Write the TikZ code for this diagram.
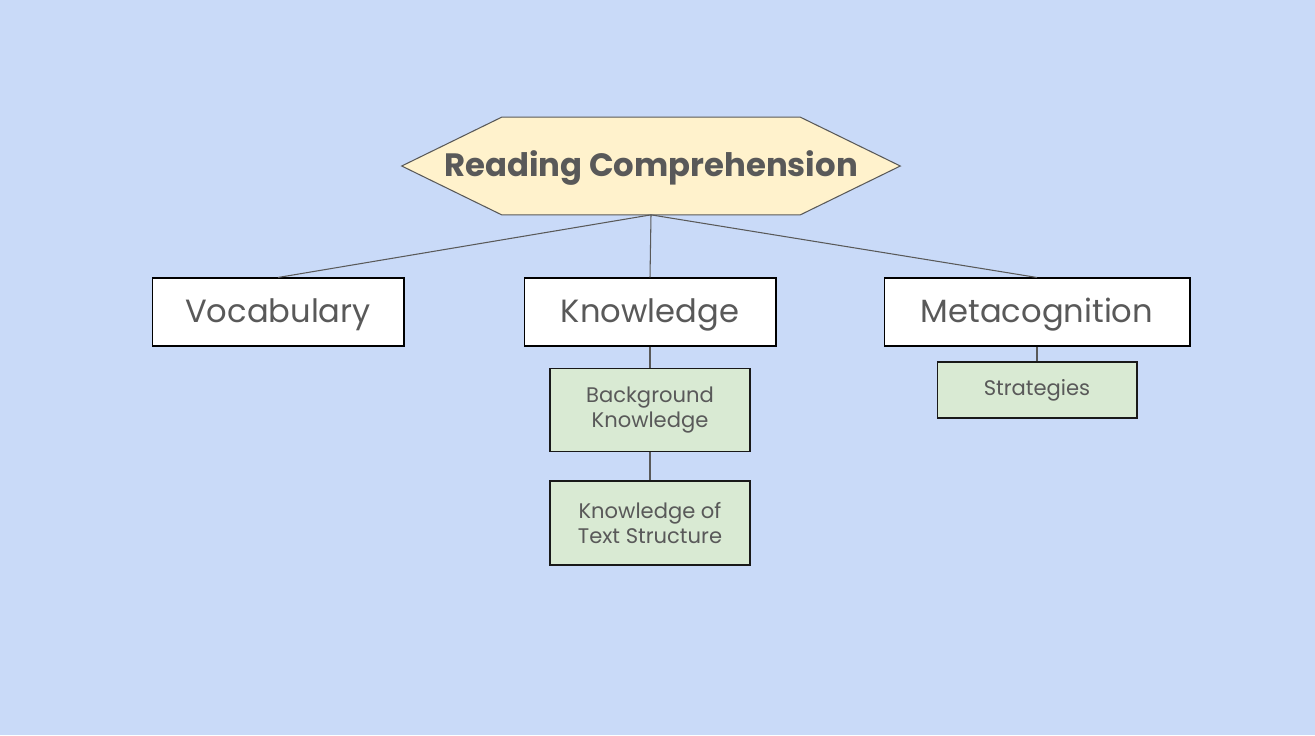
\documentclass[tikz,border=0pt]{standalone}
\usepackage{fontspec}
\setmainfont{Poppins}
\usetikzlibrary{backgrounds}

\definecolor{bgblue}{HTML}{C9DAF8}
\definecolor{hexfill}{HTML}{FFF2CC}
\definecolor{leaffill}{HTML}{D9EAD3}
\definecolor{inkgray}{HTML}{595959}

\begin{document}
\begin{tikzpicture}[
		x=0.02cm, y=-0.02cm,
		font=\fontsize{18.3}{22}\selectfont, text=inkgray,
		link/.style={draw=inkgray, line width=0.6pt},
		root/.style={rectangle, minimum width=9.96cm, minimum height=1.94cm,
			inner sep=0pt, text height=1.25em, text depth=0pt,
			font=\fontsize{18.4}{22}\selectfont\bfseries},
		hexa/.style={draw=inkgray, fill=hexfill, line width=0.6pt},
		block/.style={rectangle, draw=black, fill=white, line width=0.6pt,
			minimum height=1.36cm, inner sep=0pt, text height=1.22em, text depth=0pt},
		leaf/.style={rectangle, draw=black!90, fill=leaffill, line width=0.6pt,
			minimum width=4cm, inner sep=0pt, align=center,
			font=\fontsize{12}{14.7}\selectfont}
		]
		
		% ---- Top: main topic ----
		\node[root] (rc) at (651,166) {Reading Comprehension};
		
		% ---- Row 1: the three parts ----
		\node[block, minimum width=5.04cm] (vocab) at (278,312) {Vocabulary};
		\node[block, minimum width=5.04cm] (know)  at (650,312) {Knowledge};
		\node[block, minimum width=6.12cm] (meta)  at (1037,312) {Metacognition};
		
		% ---- Row 2: sub-parts ----
		\node[leaf, minimum height=1.66cm] (bg)    at (650,410) {Background\\Knowledge};
		\node[leaf, minimum height=1.68cm] (struc) at (650,523) {Knowledge of\\Text Structure};
		\node[leaf, minimum height=1.12cm] (strat) at (1037,390) {Strategies};
		
		% ---- Links ----
		\draw[link] (rc.south) -- (vocab.north);
		\draw[link] (rc.south) -- (know.north);
		\draw[link] (rc.south) -- (meta.north);
		\draw[link] (know.south) -- (bg.north);
		\draw[link] (bg.south) -- (struc.north);
		\draw[link] (meta.south) -- (strat.north);
		
		% ---- Canvas and hexagon behind ----
		\begin{pgfonlayer}{background}
			\fill[bgblue] (0,0) rectangle (1315,735);
			\draw[hexa] (rc.west) -- ([xshift=2cm]rc.north west)
				-- ([xshift=-2cm]rc.north east) -- (rc.east)
				-- ([xshift=-2cm]rc.south east) -- ([xshift=2cm]rc.south west) -- cycle;
		\end{pgfonlayer}
		\useasboundingbox (0,0) rectangle (1315,735);
	\end{tikzpicture}
\end{document}
